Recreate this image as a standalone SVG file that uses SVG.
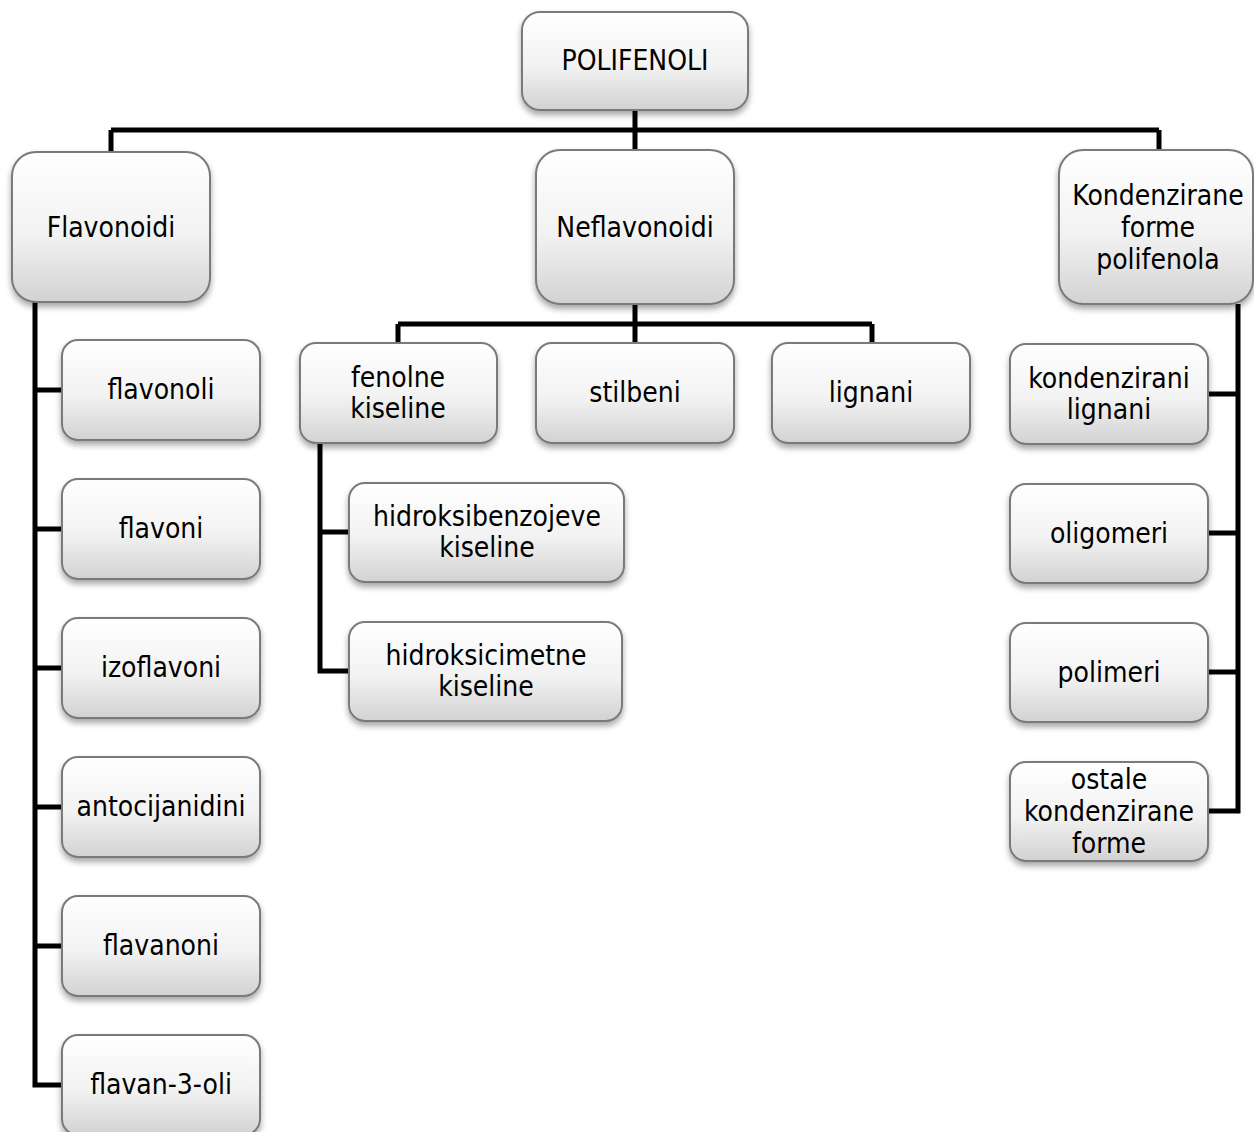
<svg xmlns="http://www.w3.org/2000/svg" width="1254" height="1132" viewBox="0 0 1254 1132">
<defs>
<linearGradient id="g" x1="0" y1="0" x2="0" y2="1">
<stop offset="0" stop-color="#ffffff"/>
<stop offset="0.55" stop-color="#f2f2f2"/>
<stop offset="1" stop-color="#d2d2d2"/>
</linearGradient>
<filter id="sh" x="-10%" y="-10%" width="125%" height="130%">
<feGaussianBlur in="SourceAlpha" stdDeviation="3"/>
<feOffset dx="0" dy="4" result="b"/>
<feComponentTransfer><feFuncA type="linear" slope="0.35"/></feComponentTransfer>
<feMerge><feMergeNode/><feMergeNode in="SourceGraphic"/></feMerge>
</filter>
</defs>
<style>
.box{fill:url(#g);stroke:#7a7a7a;stroke-width:2;filter:url(#sh)}
.t{font-family:"DejaVu Sans Condensed","DejaVu Sans",sans-serif;font-size:28px;fill:#000;text-anchor:middle}
.c{fill:none;stroke:#000;stroke-width:5}
</style>
<rect width="1254" height="1132" fill="#fff"/>
<g id="connectors">
<path class="c" d="M635 110V150M111 130H1159M111 130V152M1159 130V150"/>
<path class="c" d="M35 302V1085H62M35 390H62M35 529H62M35 668H62M35 807H62M35 946H62"/>
<path class="c" d="M635 304V343M398 324H872M398 324V343M872 324V343"/>
<path class="c" d="M320 443V671H349M320 532H349"/>
<path class="c" d="M1238 304V811H1208M1208 394H1238M1208 533H1238M1208 672H1238"/>
</g>
<g id="polifenoli"><rect class="box" x="522" y="12" width="226" height="98" rx="18"/><text class="t" x="635" y="70">POLIFENOLI</text></g>
<g id="flavonoidi"><rect class="box" x="12" y="152" width="198" height="150" rx="24"/><text class="t" x="111" y="237">Flavonoidi</text></g>
<g id="neflavonoidi"><rect class="box" x="536" y="150" width="198" height="154" rx="24"/><text class="t" x="635" y="237">Neflavonoidi</text></g>
<g id="kondenzirane"><rect class="box" x="1059" y="150" width="194" height="154" rx="24"/><text class="t" x="1158" y="205">Kondenzirane</text><text class="t" x="1158" y="237">forme</text><text class="t" x="1158" y="269">polifenola</text></g>
<g id="flavonoli"><rect class="box" x="62" y="340" width="198" height="100" rx="16"/><text class="t" x="161" y="399">flavonoli</text></g>
<g id="flavoni"><rect class="box" x="62" y="479" width="198" height="100" rx="16"/><text class="t" x="161" y="538">flavoni</text></g>
<g id="izoflavoni"><rect class="box" x="62" y="618" width="198" height="100" rx="16"/><text class="t" x="161" y="677">izoflavoni</text></g>
<g id="antocijanidini"><rect class="box" x="62" y="757" width="198" height="100" rx="16"/><text class="t" x="161" y="816">antocijanidini</text></g>
<g id="flavanoni"><rect class="box" x="62" y="896" width="198" height="100" rx="16"/><text class="t" x="161" y="955">flavanoni</text></g>
<g id="flavan3oli"><rect class="box" x="62" y="1035" width="198" height="100" rx="16"/><text class="t" x="161" y="1094">flavan-3-oli</text></g>
<g id="fenolne"><rect class="box" x="300" y="343" width="197" height="100" rx="16"/><text class="t" x="398" y="387">fenolne</text><text class="t" x="398" y="418">kiseline</text></g>
<g id="stilbeni"><rect class="box" x="536" y="343" width="198" height="100" rx="16"/><text class="t" x="635" y="402">stilbeni</text></g>
<g id="lignani"><rect class="box" x="772" y="343" width="198" height="100" rx="16"/><text class="t" x="871" y="402">lignani</text></g>
<g id="hidroksibenzojeve"><rect class="box" x="349" y="483" width="275" height="99" rx="16"/><text class="t" x="487" y="526">hidroksibenzojeve</text><text class="t" x="487" y="557">kiseline</text></g>
<g id="hidroksicimetne"><rect class="box" x="349" y="622" width="273" height="99" rx="16"/><text class="t" x="486" y="665">hidroksicimetne</text><text class="t" x="486" y="696">kiseline</text></g>
<g id="kondlignani"><rect class="box" x="1010" y="344" width="198" height="100" rx="16"/><text class="t" x="1109" y="388">kondenzirani</text><text class="t" x="1109" y="419">lignani</text></g>
<g id="oligomeri"><rect class="box" x="1010" y="484" width="198" height="99" rx="16"/><text class="t" x="1109" y="543">oligomeri</text></g>
<g id="polimeri"><rect class="box" x="1010" y="623" width="198" height="99" rx="16"/><text class="t" x="1109" y="682">polimeri</text></g>
<g id="ostale"><rect class="box" x="1010" y="762" width="198" height="99" rx="16"/><text class="t" x="1109" y="789">ostale</text><text class="t" x="1109" y="821">kondenzirane</text><text class="t" x="1109" y="853">forme</text></g>
</svg>
